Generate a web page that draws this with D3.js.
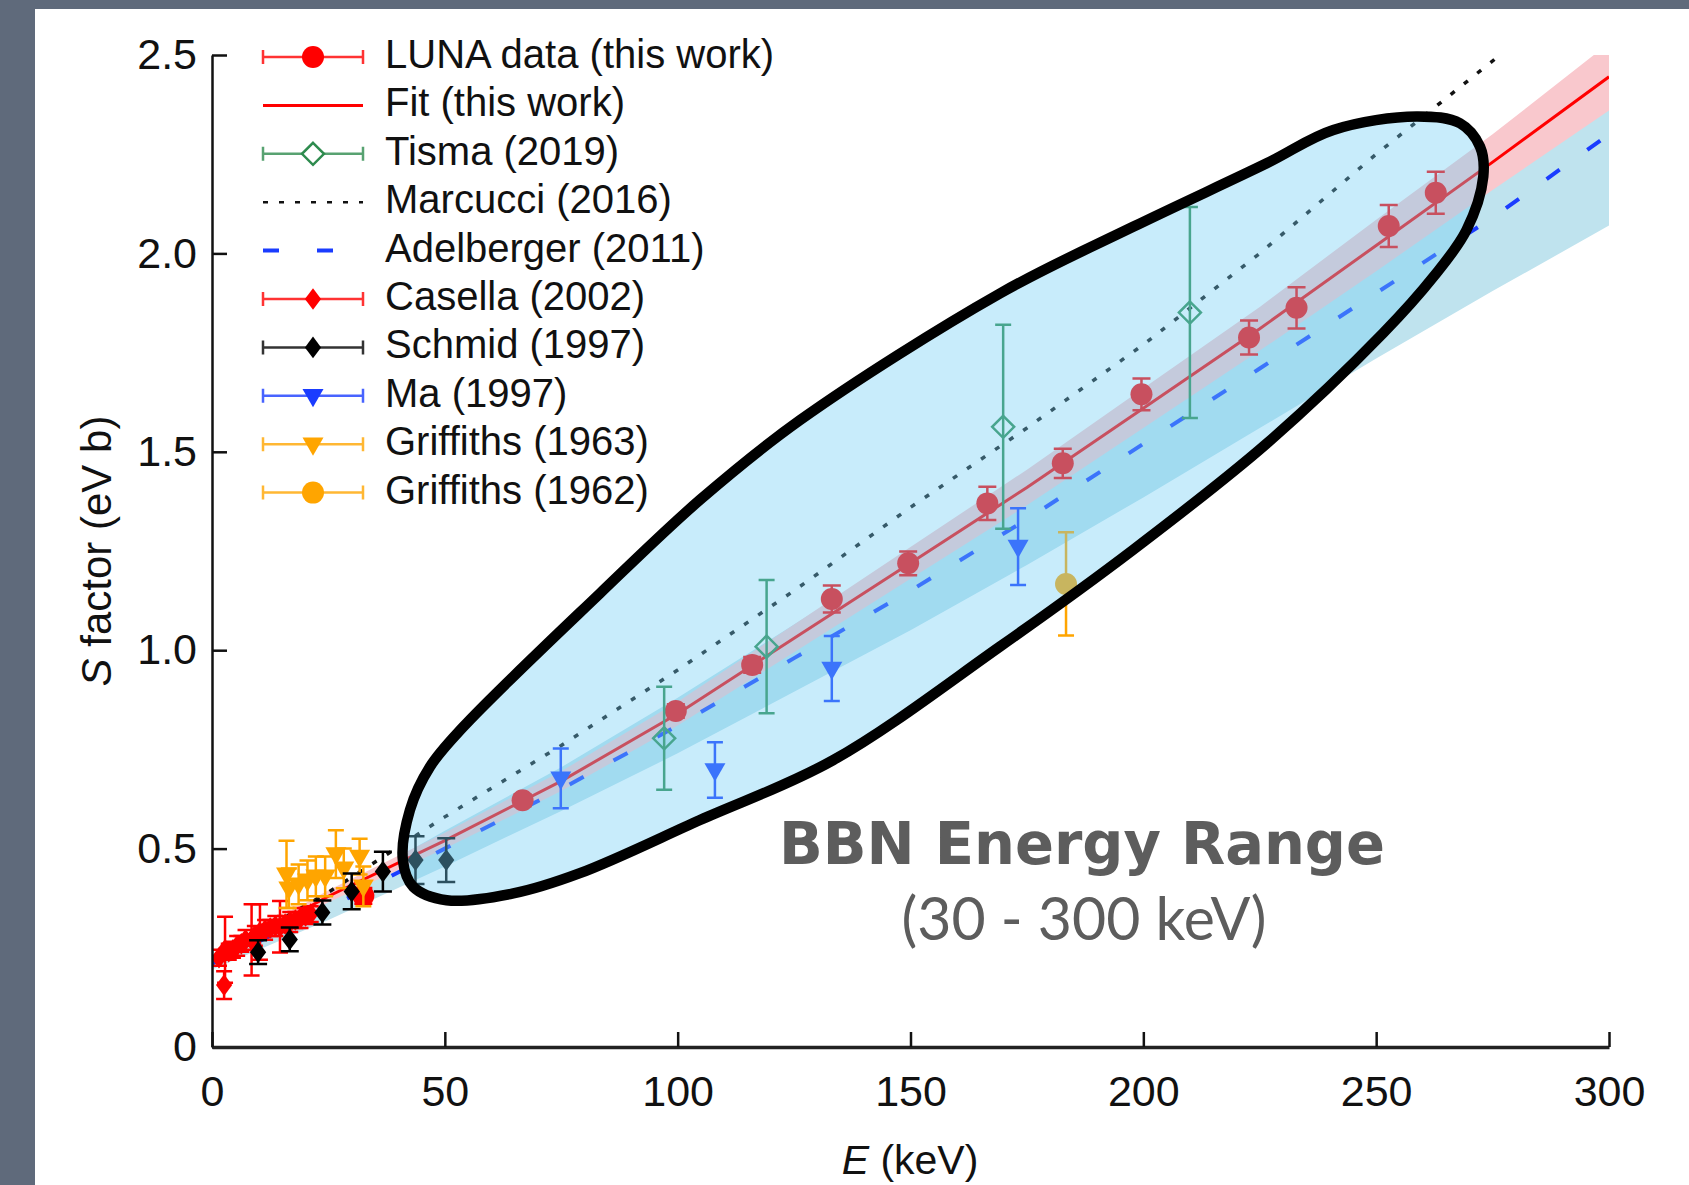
<!DOCTYPE html>
<html>
<head>
<meta charset="utf-8">
<script src="https://cdn.jsdelivr.net/npm/d3@7/dist/d3.min.js"></script>
<style>
  html, body { margin: 0; padding: 0; background: #fff; }
  svg { display: block; }
</style>
</head>
<body>
<div id="chart"></div>
<script>
const W = 1689, H = 1185

// LUNA data (this work)
const lunaE = [32.5, 66.7, 99.6, 116.0, 133.1, 149.5, 166.5, 182.7, 199.6, 222.7, 232.9, 252.7, 262.8]
const lunaS = [0.381, 0.622, 0.847, 0.963, 1.129, 1.219, 1.370, 1.471, 1.645, 1.788, 1.863, 2.069, 2.153]
const lunaErr = [0.02, 0.015, 0.017, 0.02, 0.034, 0.03, 0.042, 0.037, 0.04, 0.043, 0.052, 0.053, 0.053]

// Fit (this work) and its uncertainty band
const fitE = [0, 25, 50, 75, 100, 125, 150, 175, 200, 225, 250, 275, 300]
const fitS = [0.22, 0.38, 0.52, 0.67, 0.84, 1.03, 1.22, 1.41, 1.61, 1.81, 2.02, 2.23, 2.445]
const fitLo = [0.21, 0.365, 0.50, 0.645, 0.81, 0.995, 1.18, 1.365, 1.56, 1.755, 1.955, 2.16, 2.36]
const fitHi = [0.23, 0.395, 0.54, 0.695, 0.87, 1.065, 1.26, 1.455, 1.66, 1.865, 2.085, 2.30, 2.53]

// Adelberger (2011) and its band
const adelE = [0, 25, 50, 75, 100, 125, 150, 175, 200, 225, 250, 275, 300]
const adelS = [0.21, 0.35, 0.50, 0.65, 0.81, 0.98, 1.15, 1.33, 1.52, 1.71, 1.90, 2.09, 2.30]
const adelLo = [0.195, 0.32, 0.455, 0.595, 0.74, 0.895, 1.05, 1.215, 1.385, 1.56, 1.735, 1.905, 2.07]
const adelHi = [0.225, 0.38, 0.545, 0.705, 0.88, 1.065, 1.25, 1.445, 1.655, 1.86, 2.065, 2.275, 2.53]

// Marcucci (2016)
const marcE = [0, 25, 50, 75, 100, 125, 150, 175, 200, 225, 250, 276.6]
const marcS = [0.22, 0.39, 0.58, 0.76, 0.95, 1.15, 1.36, 1.56, 1.77, 2.00, 2.25, 2.50]

// Tisma (2019)
const tismaE = [97.1, 119.1, 169.9, 210.0]
const tismaS = [0.778, 1.009, 1.563, 1.851]
const tismaErr = [0.13, 0.168, 0.257, 0.266]

// Ma (1997)
const maE = [74.9, 108.0, 133.1, 173.1]
const maS = [0.677, 0.698, 0.954, 1.261]
const maErr = [0.075, 0.07, 0.082, 0.097]

// Griffiths (1962)
const g62E = [183.4]
const g62S = [1.167]
const g62Err = [0.13]

// Griffiths (1963)
const g63E = [16.0, 16.5, 18.6, 20.5, 22.3, 24.3, 26.6, 28.3, 31.7, 32.5]
const g63S = [0.435, 0.40, 0.41, 0.42, 0.43, 0.43, 0.486, 0.45, 0.48, 0.405]
const g63Err = [0.085, 0.05, 0.05, 0.05, 0.05, 0.05, 0.06, 0.05, 0.045, 0.05]

// Schmid (1997)
const schmidE = [9.9, 16.7, 23.7, 30.0, 36.7, 43.7, 50.3]
const schmidS = [0.239, 0.271, 0.339, 0.392, 0.442, 0.471, 0.471]
const schmidErr = [0.03, 0.03, 0.03, 0.045, 0.05, 0.06, 0.055]

// Casella (2002)
const casE = [1.5, 2.6, 2.8, 3.6, 4.5, 5.4, 6.3, 7.2, 8.5, 9.2, 10.3, 11.4, 12.5, 13.6, 14.6, 15.7, 16.8, 17.9, 19.0, 20.1, 21.2]
const casS = [0.225, 0.156, 0.245, 0.24, 0.245, 0.255, 0.26, 0.27, 0.27, 0.28, 0.29, 0.295, 0.30, 0.305, 0.303, 0.31, 0.315, 0.32, 0.325, 0.33, 0.335]
const casErr = [0.02, 0.035, 0.083, 0.02, 0.02, 0.025, 0.02, 0.025, 0.09, 0.025, 0.07, 0.025, 0.02, 0.025, 0.065, 0.02, 0.025, 0.02, 0.025, 0.02, 0.02]

// hand drawn "BBN" oval outline, in data units
const ovalE = [41.0, 42.5, 46.8, 53.9, 83.3, 104.8, 126.3, 169.2, 197.8, 226.5, 240.8, 258.7, 268.0, 272.3, 273.0, 269.4, 262.3, 251.5, 226.5, 197.8, 169.2, 133.4, 104.8, 79.0, 64.7, 50.4, 43.2]
const ovalS = [0.47, 0.597, 0.706, 0.806, 1.143, 1.379, 1.580, 1.899, 2.067, 2.227, 2.311, 2.345, 2.328, 2.269, 2.193, 2.059, 1.941, 1.799, 1.521, 1.253, 1.009, 0.723, 0.572, 0.438, 0.387, 0.370, 0.404]

const xTicks = [0, 50, 100, 150, 200, 250, 300]
const yTicks = [0, 0.5, 1.0, 1.5, 2.0, 2.5]

const legendLabels = ["LUNA data (this work)", "Fit (this work)", "Tisma (2019)", "Marcucci (2016)", "Adelberger (2011)",
  "Casella (2002)", "Schmid (1997)", "Ma (1997)", "Griffiths (1963)", "Griffiths (1962)"]

const RED = "#ff0000", GREEN = "#2e8b4e", BLUE = "#1a3cff", ORANGE = "#ffa500", BLACK = "#000"
const FONT = "'Liberation Sans', Arial, Helvetica, sans-serif"

const x = d3.scaleLinear().domain([0, 300]).range([212, 1609])
const y = d3.scaleLinear().domain([0, 2.5]).range([1047, 55])

const svg = d3.select("#chart").append("svg")
    .attr("width", W)
    .attr("height", H)

// slide frame
svg.append("rect").attr("width", W).attr("height", H).attr("fill", "#5f6a7b")
svg.append("rect").attr("x", 35).attr("y", 9).attr("width", W - 35).attr("height", H - 9).attr("fill", "#fff")

svg.append("clipPath").attr("id", "plotclip")
  .append("rect")
    .attr("x", x(0)).attr("y", y(2.5))
    .attr("width", x(300) - x(0)).attr("height", y(0) - y(2.5))

const plot = svg.append("g").attr("clip-path", "url(#plotclip)")

function band(E, lo, hi) {
    return d3.area()
        .x(i => x(E[i]))
        .y0(i => y(lo[i]))
        .y1(i => y(hi[i]))(d3.range(E.length))
}
function curve(E, S) {
    return d3.line()
        .x(i => x(E[i]))
        .y(i => y(S[i]))(d3.range(E.length))
}

plot.append("path").attr("d", band(adelE, adelLo, adelHi)).attr("fill", "#bfe3ee")
plot.append("path").attr("d", band(fitE, fitLo, fitHi)).attr("fill", "#f9c8cd")

plot.append("path").attr("d", curve(adelE, adelS))
    .attr("fill", "none").attr("stroke", BLUE).attr("stroke-width", 4)
    .attr("stroke-dasharray", "16,34")
plot.append("path").attr("d", curve(fitE, fitS))
    .attr("fill", "none").attr("stroke", RED).attr("stroke-width", 3)
plot.append("path").attr("d", curve(marcE, marcS))
    .attr("fill", "none").attr("stroke", "#111").attr("stroke-width", 3.5)
    .attr("stroke-dasharray", "5,12")

function markerPath(shape, s) {
    if (shape === "circle") return d3.symbol(d3.symbolCircle, Math.PI * s * s)()
    if (shape === "diamond") return `M0,${-s * 1.2}L${s * 0.9},0L0,${s * 1.2}L${-s * 0.9},0Z`
    if (shape === "opendiamond") return `M0,${-s}L${s},0L0,${s}L${-s},0Z`
    // triangle pointing down
    return `M${-s},${-s * 0.65}L${s},${-s * 0.65}L0,${s * 1.1}Z`
}

const pointSeries = [
    { E: casE, S: casS, err: casErr, color: RED, shape: "diamond", size: 9, cap: 8 },
    { E: lunaE, S: lunaS, err: lunaErr, color: RED, shape: "circle", size: 11, cap: 9 },
    { E: g62E, S: g62S, err: g62Err, color: ORANGE, shape: "circle", size: 11, cap: 8 },
    { E: tismaE, S: tismaS, err: tismaErr, color: GREEN, shape: "opendiamond", size: 11, cap: 8 },
    { E: maE, S: maS, err: maErr, color: BLUE, shape: "tri", size: 10.5, cap: 8 },
    { E: g63E, S: g63S, err: g63Err, color: ORANGE, shape: "tri", size: 10.5, cap: 8 },
    { E: schmidE, S: schmidS, err: schmidErr, color: BLACK, shape: "diamond", size: 9, cap: 9 }
]

pointSeries.forEach(ser => {
    const g = plot.append("g")
    const idx = d3.range(ser.E.length)
    idx.forEach(i => {
        const px = x(ser.E[i])
        const top = y(ser.S[i] + ser.err[i]), bot = y(ser.S[i] - ser.err[i])
        g.append("path")
            .attr("d", `M${px},${top}V${bot}M${px - ser.cap},${top}H${px + ser.cap}M${px - ser.cap},${bot}H${px + ser.cap}`)
            .attr("stroke", ser.color).attr("stroke-width", 2.5).attr("fill", "none")
    })
    g.selectAll(".m").data(idx).enter().append("path")
        .attr("transform", i => `translate(${x(ser.E[i])},${y(ser.S[i])})`)
        .attr("d", markerPath(ser.shape, ser.size))
        .attr("fill", ser.shape === "opendiamond" ? "none" : ser.color)
        .attr("stroke", ser.shape === "opendiamond" ? ser.color : "none")
        .attr("stroke-width", 2.5)
})

// axes
const yAxis = d3.axisLeft(y)
    .tickValues(yTicks)
    .tickSizeInner(-15).tickSizeOuter(0).tickPadding(15)
    .tickFormat(d => d === 0 ? "0" : d3.format(".1f")(d))
const xAxis = d3.axisBottom(x)
    .tickValues(xTicks)
    .tickSizeInner(-15).tickSizeOuter(0).tickPadding(28)

const yg = svg.append("g").attr("transform", `translate(${x(0)},0)`).call(yAxis)
const xg = svg.append("g").attr("transform", `translate(0,${y(0)})`).call(xAxis)
;[yg, xg].forEach(g => {
    g.selectAll(".tick line").attr("stroke", "#111").attr("stroke-width", 2.5)
    g.selectAll("text").attr("font-family", FONT).attr("font-size", 43).attr("fill", "#111")
})
yg.select("path.domain").attr("stroke", "#111").attr("stroke-width", 2.5)
xg.select("path.domain").attr("stroke", "#222").attr("stroke-width", 3.5)

const yLab = svg.append("text")
    .attr("transform", "translate(111,551) rotate(-90)")
    .attr("text-anchor", "middle")
    .attr("font-family", FONT).attr("font-size", 42).attr("fill", "#111")
yLab.append("tspan").attr("font-style", "italic").text("S")
yLab.append("tspan").text(" factor (eV b)")

const xLab = svg.append("text")
    .attr("x", 910).attr("y", 1174)
    .attr("text-anchor", "middle")
    .attr("font-family", FONT).attr("font-size", 41).attr("fill", "#111")
xLab.append("tspan").attr("font-style", "italic").text("E")
xLab.append("tspan").text(" (keV)")

// BBN highlight oval drawn over the data
svg.append("path")
    .attr("d", d3.line().x(i => x(ovalE[i])).y(i => y(ovalS[i]))
        .curve(d3.curveCatmullRomClosed.alpha(0.5))(d3.range(ovalE.length)))
    .attr("fill", "rgba(114,206,245,0.39)")
    .attr("stroke", "#000").attr("stroke-width", 10.5)
    .attr("stroke-linejoin", "round")

svg.append("text")
    .attr("x", 1082).attr("y", 864)
    .attr("text-anchor", "middle")
    .attr("font-family", "'DejaVu Sans', sans-serif").attr("font-weight", "bold")
    .attr("font-size", 59).attr("fill", "#5d5d5d")
    .attr("textLength", 606).attr("lengthAdjust", "spacingAndGlyphs")
    .text("BBN Energy Range")
svg.append("text")
    .attr("x", 1084).attr("y", 940)
    .attr("text-anchor", "middle")
    .attr("font-family", "Lato, sans-serif")
    .attr("font-size", 60).attr("fill", "#5d5d5d")
    .attr("textLength", 365).attr("lengthAdjust", "spacingAndGlyphs")
    .text("(30 - 300 keV)")

// legend
const LX0 = 263, LX1 = 363, LXM = 313
const legendKinds = [
    { kind: "err", color: RED, shape: "circle", size: 11 },
    { kind: "line", color: RED },
    { kind: "err", color: GREEN, shape: "opendiamond", size: 11 },
    { kind: "dotted", color: "#111" },
    { kind: "dashed", color: BLUE },
    { kind: "err", color: RED, shape: "diamond", size: 9 },
    { kind: "err", color: BLACK, shape: "diamond", size: 9 },
    { kind: "err", color: BLUE, shape: "tri", size: 10.5 },
    { kind: "err", color: ORANGE, shape: "tri", size: 10.5 },
    { kind: "err", color: ORANGE, shape: "circle", size: 11 }
]
const legend = svg.append("g")
legendLabels.forEach((label, i) => {
    const ly = 57 + i * 48.4
    const k = legendKinds[i]
    const g = legend.append("g").attr("transform", `translate(0,${ly})`)
    if (k.kind === "err") {
        g.append("path")
            .attr("d", `M${LX0},0H${LX1}M${LX0},-7V7M${LX1},-7V7`)
            .attr("stroke", k.color).attr("stroke-width", 2.5).attr("fill", "none").attr("opacity", 0.8)
        g.append("path")
            .attr("transform", `translate(${LXM},0)`)
            .attr("d", markerPath(k.shape, k.size))
            .attr("fill", k.shape === "opendiamond" ? "#fff" : k.color)
            .attr("stroke", k.shape === "opendiamond" ? k.color : "none")
            .attr("stroke-width", 2.5)
    } else {
        g.append("line").attr("x1", LX0).attr("x2", LX1)
            .attr("stroke", k.color)
            .attr("stroke-width", k.kind === "line" ? 3 : (k.kind === "dashed" ? 4 : 2.5))
            .attr("stroke-dasharray", k.kind === "dotted" ? "5,11" : (k.kind === "dashed" ? "16,38" : null))
    }
    g.append("text")
        .attr("x", 385).attr("y", 11)
        .attr("font-family", FONT).attr("font-size", 40).attr("fill", "#111")
        .text(label)
})
</script>
</body>
</html>
